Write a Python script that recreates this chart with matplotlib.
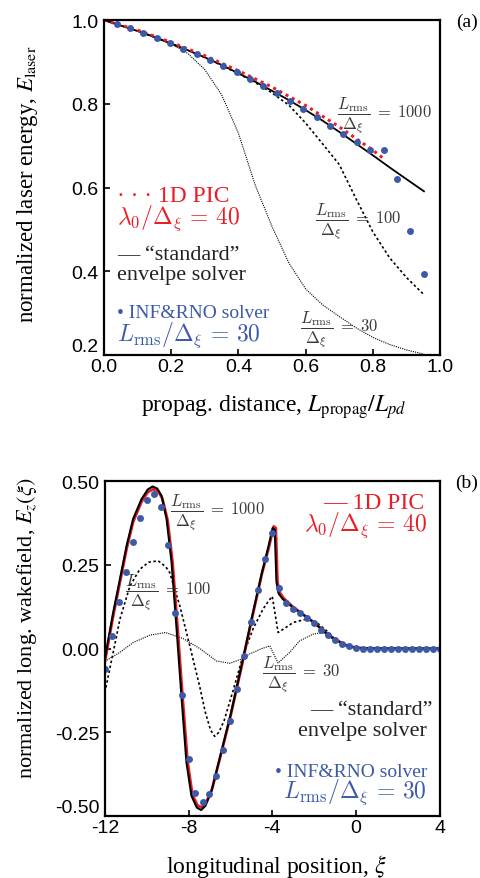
import matplotlib
matplotlib.use('Agg')
import matplotlib.pyplot as plt

# ---- panel (a): laser energy vs propagation distance ----
a_dist_dots = [0.038, 0.078, 0.117, 0.157, 0.196, 0.236, 0.276, 0.316, 0.355, 0.395, 0.435, 0.474,
               0.514, 0.554, 0.593, 0.633, 0.673, 0.712, 0.752, 0.792, 0.832, 0.871, 0.911, 0.951]
a_inf = [0.990, 0.980, 0.969, 0.957, 0.945, 0.932, 0.919, 0.905, 0.890, 0.875, 0.859, 0.842,
         0.825, 0.806, 0.788, 0.768, 0.748, 0.729, 0.709, 0.690, 0.690, 0.620, 0.496, 0.393]

a_dist_std = [0, 0.05, 0.1, 0.15, 0.2, 0.25, 0.3, 0.35, 0.4, 0.45, 0.5, 0.55, 0.6, 0.65, 0.7,
              0.75, 0.8, 0.85, 0.9, 0.952]
a_std = [1.0, 0.987, 0.974, 0.960, 0.944, 0.928, 0.911, 0.893, 0.873, 0.853, 0.831, 0.809, 0.785,
         0.760, 0.733, 0.705, 0.677, 0.648, 0.620, 0.591]

a_dist_pic = [0, 0.1, 0.2, 0.3, 0.4, 0.5, 0.6, 0.7, 0.8, 0.836]
a_pic = [1.0, 0.976, 0.947, 0.915, 0.879, 0.840, 0.796, 0.745, 0.689, 0.667]

a_dist_100 = [0, 0.1, 0.2, 0.3, 0.4, 0.45, 0.5, 0.55, 0.6, 0.65, 0.7, 0.75, 0.8, 0.85, 0.9, 0.952]
a_100 = [1.0, 0.974, 0.944, 0.911, 0.872, 0.851, 0.826, 0.797, 0.754, 0.705, 0.655, 0.573, 0.494,
         0.432, 0.385, 0.344]

a_dist_30 = [0, 0.1, 0.2, 0.25, 0.3, 0.35, 0.4, 0.45, 0.5, 0.55, 0.6, 0.65, 0.7, 0.75, 0.8, 0.85,
             0.9, 0.952]
a_30 = [1.0, 0.974, 0.943, 0.920, 0.882, 0.822, 0.730, 0.606, 0.507, 0.420, 0.358, 0.320, 0.292,
        0.265, 0.242, 0.225, 0.212, 0.202]

a_xticks = [0.0, 0.2, 0.4, 0.6, 0.8, 1.0]
a_yticks = [0.2, 0.4, 0.6, 0.8, 1.0]

# ---- panel (b): wakefield vs longitudinal position ----
b_xi_dots = [-12.00, -11.67, -11.33, -11.00, -10.67, -10.33, -10.00, -9.67, -9.33, -9.00, -8.67,
             -8.33, -8.00, -7.67, -7.33, -7.00, -6.67, -6.33, -6.00, -5.67, -5.33, -5.00, -4.67,
             -4.33, -4.00, -3.67, -3.33, -3.00, -2.67, -2.33, -2.00, -1.67, -1.33, -1.00, -0.67,
             -0.33, 0.00, 0.33, 0.67, 1.00, 1.33, 1.67, 2.00, 2.33, 2.67, 3.00, 3.33, 3.67, 4.00]
b_inf = [-0.061, 0.038, 0.138, 0.230, 0.317, 0.390, 0.443, 0.461, 0.424, 0.309, 0.106, -0.139,
         -0.331, -0.432, -0.459, -0.434, -0.379, -0.303, -0.215, -0.121, -0.021, 0.078, 0.176,
         0.267, 0.345, 0.180, 0.136, 0.118, 0.105, 0.090, 0.075, 0.056, 0.040, 0.026, 0.014,
         0.007, 0.002, 0, 0, 0, 0, 0, 0, 0, 0, 0, 0, 0, 0]

b_xi_std = [-12.0, -11.6, -11.28, -10.96, -10.65, -10.25, -9.95, -9.72, -9.5, -9.29, -9.05, -8.81,
            -8.57, -8.34, -8.1, -7.86, -7.6, -7.4, -7.2, -6.9, -6.6, -6.3, -6.0, -5.5, -5.0, -4.5,
            -4.2, -3.98, -3.88, -3.8, -3.7, -3.5, -3.0, -2.5, -2.0, -1.5, -1.0, -0.5, 0.0, 1.0, 4.0]
b_std = [-0.03, 0.108, 0.207, 0.307, 0.387, 0.446, 0.475, 0.484, 0.478, 0.456, 0.387, 0.257,
         0.058, -0.141, -0.340, -0.440, -0.475, -0.482, -0.470, -0.425, -0.350, -0.275, -0.200,
         -0.060, 0.085, 0.225, 0.300, 0.360, 0.355, 0.200, 0.165, 0.148, 0.122, 0.100, 0.077,
         0.050, 0.027, 0.010, 0.002, 0.0, 0.0]

b_xi_pic = [-12.0, -11.6, -11.28, -10.96, -10.65, -10.25, -9.95, -9.68, -9.45, -9.25, -9.0, -8.76,
            -8.52, -8.29, -8.05, -7.82, -7.58, -7.38, -7.18, -6.88, -6.58, -6.28, -5.98, -5.48,
            -4.98, -4.48, -4.15, -3.93, -3.83, -3.75, -3.65, -3.45, -3.0, -2.5, -2.0, -1.5, -1.0,
            -0.5, 0.0, 1.0, 4.0]
b_pic = [-0.04, 0.098, 0.198, 0.298, 0.378, 0.438, 0.467, 0.476, 0.470, 0.448, 0.383, 0.255,
         0.058, -0.141, -0.335, -0.435, -0.468, -0.474, -0.463, -0.420, -0.347, -0.273, -0.198,
         -0.058, 0.087, 0.227, 0.305, 0.365, 0.360, 0.200, 0.168, 0.150, 0.124, 0.101, 0.078,
         0.051, 0.028, 0.011, 0.002, 0.0, 0.0]

b_xi_100 = [-12.0, -11.6, -11.28, -10.8, -10.33, -9.9, -9.45, -9.1, -8.9, -8.42, -7.94, -7.46,
            -7.2, -6.95, -6.75, -6.55, -6.3, -5.87, -5.39, -4.91, -4.44, -4.2, -4.0, -3.72, -3.3,
            -3.0, -2.36, -1.88, -1.4, -1.0, -0.5, 0.0, 4.0]
b_100 = [-0.131, -0.011, 0.088, 0.187, 0.237, 0.258, 0.262, 0.245, 0.227, 0.128, 0.008, -0.115,
         -0.190, -0.243, -0.262, -0.250, -0.215, -0.125, -0.020, 0.060, 0.118, 0.140, 0.156, 0.048,
         0.065, 0.078, 0.088, 0.078, 0.053, 0.026, 0.010, 0.002, 0.0]

b_xi_30 = [-12.0, -11.3, -10.65, -9.85, -9.1, -8.26, -7.46, -6.67, -6.03, -5.5, -5.08, -4.5, -4.12,
           -3.72, -3.16, -2.69, -2.05, -1.57, -1.25, -1.0, -0.5, 0.0, 4.0]
b_30 = [-0.038, -0.012, 0.018, 0.040, 0.048, 0.030, 0.0, -0.037, -0.044, -0.032, -0.016, 0.0, 0.008,
        -0.043, -0.011, 0.023, 0.043, 0.048, 0.033, 0.026, 0.010, 0.002, 0.0]

b_xticks = [-12, -8, -4, 0, 4]
b_yticks = [-0.50, -0.25, 0.00, 0.25, 0.50]

RED = '#ec1c24'
BLUE = '#3c5aa8'
GREY = '#3a3a3a'
SERIF = 'Liberation Serif'
SANS = 'Liberation Sans'

plt.rcParams['mathtext.fontset'] = 'cm'


def style_axes(ax, xticks, yticks, xfmt, yfmt):
    ax.set_xticks(xticks)
    ax.set_yticks(yticks)
    ax.set_xticklabels([xfmt(v) for v in xticks])
    ax.set_yticklabels([yfmt(v) for v in yticks])
    ax.tick_params(direction='in', length=4, width=1.2, top=False, right=False, labelsize=14)
    ax.tick_params(axis='y', pad=4)
    ax.tick_params(axis='x', pad=2)
    for lab in ax.get_xticklabels() + ax.get_yticklabels():
        lab.set_family(SANS)
    for sp in ax.spines.values():
        sp.set_linewidth(1.6)
    # bottom y label lifted off the corner
    ax.get_yticklabels()[0].set_verticalalignment('bottom')


def frac_label(ax, x, y, value, **kw):
    ax.text(x, y, r'$\dfrac{L_{\rm rms}}{\Delta_\xi}\;=\;%s$' % value, transform=ax.transAxes,
            fontsize=12, color=GREY, va='center', **kw)


fig = plt.figure(figsize=(4.81, 8.79), dpi=100)

# panel (a)
ax1 = fig.add_axes([0.216, 0.595, 0.699, 0.381])
ax1.plot(a_dist_30, a_30, color='black', lw=0.8, ls=(0, (1, 1)))
ax1.plot(a_dist_100, a_100, color='black', lw=1.2, ls=(0, (1.5, 1.5)))
ax1.plot(a_dist_std, a_std, color='black', lw=1.3)
ax1.plot(a_dist_pic, a_pic, color=RED, lw=2.2, ls=(0, (1, 1.3)))
ax1.plot(a_dist_dots, a_inf, 'o', color=BLUE, ms=5, mec='none')
ax1.set_xlim(0, 1.0)
ax1.set_ylim(0.2, 1.0)
style_axes(ax1, a_xticks, a_yticks, lambda v: '%.1f' % v, lambda v: '%.1f' % v)

ax1.set_xlabel(r'propag. distance, $L_{\rm propag}/L_{pd}$', family=SERIF, fontsize=17,
               math_fontfamily='stix')
ax1.set_ylabel(r'normalized laser energy, $E_{\rm laser}$', family=SERIF, fontsize=16.5,
               math_fontfamily='stix')
ax1.xaxis.set_label_coords(0.506, -0.110)
ax1.yaxis.set_label_coords(-0.189, 0.513)

ax1.text(0.039, 0.475, '\u00b7 \u00b7 \u00b7 1D PIC', transform=ax1.transAxes, family=SERIF,
         fontsize=17, color=RED, va='center')
ax1.text(0.039, 0.412, r'$\lambda_0/\Delta_\xi\,=\,40$', transform=ax1.transAxes, fontsize=17,
         color=RED, va='center')
ax1.text(0.039, 0.301, '\u2014 \u201cstandard\u201d', transform=ax1.transAxes, family=SERIF,
         fontsize=16, color='#222222', va='center')
ax1.text(0.039, 0.239, 'envelpe solver', transform=ax1.transAxes, family=SERIF,
         fontsize=16, color='#222222', va='center')
ax1.text(0.039, 0.128, '\u2022 INF&RNO solver', transform=ax1.transAxes, family=SERIF,
         fontsize=14, color=BLUE, va='center')
ax1.text(0.039, 0.063, r'$L_{\rm rms}/\Delta_\xi\,=\,30$', transform=ax1.transAxes, fontsize=17,
         color=BLUE, va='center')
frac_label(ax1, 0.693, 0.719, '1000')
frac_label(ax1, 0.628, 0.400, '100')
frac_label(ax1, 0.583, 0.078, '30')
ax1.text(1.080, 0.995, '(a)', transform=ax1.transAxes, family=SERIF, fontsize=14, va='center',
         ha='center')

# panel (b)
ax2 = fig.add_axes([0.218, 0.0705, 0.696, 0.381])
ax2.plot(b_xi_30, b_30, color='black', lw=0.8, ls=(0, (1, 1)))
ax2.plot(b_xi_100, b_100, color='black', lw=1.2, ls=(0, (1.5, 1.5)))
ax2.plot(b_xi_pic, b_pic, color=RED, lw=2.0)
ax2.plot(b_xi_std, b_std, color='black', lw=1.5)
ax2.plot(b_xi_dots, b_inf, 'o', color=BLUE, ms=5, mec='none')
ax2.set_xlim(-12, 4)
ax2.set_ylim(-0.5, 0.5)
style_axes(ax2, b_xticks, b_yticks, lambda v: '%d' % v, lambda v: '%.2f' % v)

ax2.set_xlabel(r'longitudinal position, $\xi$', family=SERIF, fontsize=17,
               math_fontfamily='stix')
ax2.set_ylabel(r'normalized long. wakefield, $E_z(\xi)$', family=SERIF, fontsize=16,
               math_fontfamily='stix')
ax2.xaxis.set_label_coords(0.513, -0.107)
ax2.yaxis.set_label_coords(-0.196, 0.564)

ax2.text(0.955, 0.937, '\u2014 1D PIC', transform=ax2.transAxes, family=SERIF,
         fontsize=17, color=RED, va='center', ha='right')
ax2.text(0.961, 0.872, r'$\lambda_0/\Delta_\xi\,=\,40$', transform=ax2.transAxes, fontsize=17,
         color=RED, va='center', ha='right')
ax2.text(0.979, 0.319, '\u2014 \u201cstandard\u201d', transform=ax2.transAxes, family=SERIF,
         fontsize=16, color='#222222', va='center', ha='right')
ax2.text(0.961, 0.254, 'envelpe solver', transform=ax2.transAxes, family=SERIF,
         fontsize=16, color='#222222', va='center', ha='right')
ax2.text(0.964, 0.134, '\u2022 INF&RNO solver', transform=ax2.transAxes, family=SERIF,
         fontsize=14, color=BLUE, va='center', ha='right')
ax2.text(0.961, 0.075, r'$L_{\rm rms}/\Delta_\xi\,=\,30$', transform=ax2.transAxes, fontsize=17,
         color=BLUE, va='center', ha='right')
frac_label(ax2, 0.194, 0.910, '1000')
frac_label(ax2, 0.060, 0.669, '100')
frac_label(ax2, 0.469, 0.424, '30')
ax2.text(1.080, 0.995, '(b)', transform=ax2.transAxes, family=SERIF, fontsize=14, va='center',
         ha='center')

fig.savefig('out.png', dpi=100)
